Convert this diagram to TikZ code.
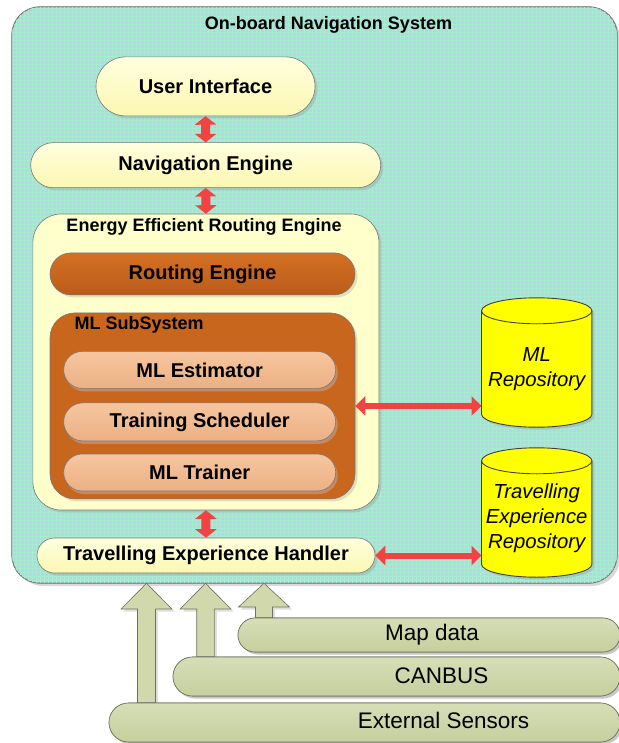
\documentclass[tikz,border=0pt]{standalone}
\usepackage{fontspec}
\setmainfont{Liberation Sans}
\usetikzlibrary{shapes.misc,shadows,arrows.meta,calc}
\definecolor{navbase}{RGB}{186,212,228}
\definecolor{navgrid}{RGB}{166,236,208}
\definecolor{edge}{RGB}{120,120,120}
\definecolor{paleY}{RGB}{255,255,204}
\definecolor{pillTop}{RGB}{255,255,222}
\definecolor{pillBot}{RGB}{252,247,178}
\definecolor{rustTop}{RGB}{212,112,36}
\definecolor{rustBot}{RGB}{186,92,26}
\definecolor{rust}{RGB}{200,102,30}
\definecolor{peachTop}{RGB}{246,198,160}
\definecolor{peachBot}{RGB}{236,176,132}
\definecolor{peachShadow}{RGB}{196,138,100}
\definecolor{arrRed}{RGB}{242,66,66}
\definecolor{greenTop}{RGB}{214,222,182}
\definecolor{greenBot}{RGB}{198,207,158}
\definecolor{greenEdge}{RGB}{112,112,96}
\definecolor{cylY}{RGB}{255,255,0}
\newcommand{\bxfont}{\fontsize{20}{24}\selectfont\bfseries}
\newcommand{\ttlfont}{\fontsize{18}{22}\selectfont\bfseries}
\newcommand{\barfont}{\fontsize{22.5}{27}\selectfont}
\newcommand{\cylfont}{\fontsize{20.3}{25}\selectfont\itshape}
\newcommand{\drawcyl}[1]{%
  \path let \p1=(#1.north west), \p2=(#1.south east) in
    [fill=cylY, draw=black!75, line width=0.9pt,
     drop shadow={shadow xshift=2.5pt,shadow yshift=-2.5pt,opacity=0.25}]
    ({\x1},{\y1-13pt}) -- ({\x1},{\y2+13pt})
    arc[start angle=180,end angle=360,x radius={(\x2-\x1)/2},y radius=13pt]
    -- ({\x2},{\y1-13pt})
    arc[start angle=0,end angle=180,x radius={(\x2-\x1)/2},y radius=13pt]
    -- cycle;
  \path let \p1=(#1.north west), \p2=(#1.south east) in
    [draw=black!75, line width=0.9pt]
    ({\x1},{\y1-13pt})
    arc[start angle=180,end angle=360,x radius={(\x2-\x1)/2},y radius=13pt];
}
\begin{document}
\begin{tikzpicture}[x=1pt,y=-1pt,
  shad/.style={drop shadow={shadow xshift=2.5pt,shadow yshift=-2.5pt,opacity=0.25}},
  pill/.style={rounded rectangle, draw=edge, line width=0.6pt, inner sep=0pt},
  yellowpill/.style={pill, top color=pillTop, bottom color=pillBot, shad, font=\bxfont},
  rustpill/.style={pill, top color=rustTop, bottom color=rustBot, shad, font=\bxfont},
  peachpill/.style={pill, top color=peachTop, bottom color=peachBot,
     drop shadow={shadow xshift=2pt,shadow yshift=-3pt,opacity=1,fill=peachShadow},
     font=\bxfont, minimum width=272pt},
  greenbar/.style={pill, draw=greenEdge, top color=greenTop, bottom color=greenBot, shad},
  container/.style={rectangle, draw=edge, line width=0.6pt, inner sep=0pt},
  ttl/.style={font=\ttlfont, inner sep=0pt},
  redv/.style={draw=arrRed, line width=9pt,
     {Triangle[width=21pt,length=8.5pt]}-{Triangle[width=21pt,length=8.5pt]}},
  redh/.style={draw=arrRed, line width=6pt,
     {Triangle[width=19pt,length=10pt]}-{Triangle[width=19pt,length=10pt]}},
  greenarrow/.style={draw=greenEdge, line width=0.6pt, fill=greenTop!60!greenBot, shad},
  cyltext/.style={font=\cylfont, align=center, inner sep=0pt},
  bartext/.style={font=\barfont, inner sep=0pt}
]
\useasboundingbox (0,0) rectangle (618,743);

% outer system box
\node[container, fill=navbase, rounded corners=28pt, minimum width=605pt, minimum height=576pt,
      drop shadow={shadow xshift=3pt,shadow yshift=-3pt,opacity=0.3}] (nav) at (314.5,295) {};
\begin{scope}
  \clip[rounded corners=28pt] (nav.north west) rectangle (nav.south east);
  \draw[navgrid, line width=0.5pt, step=4pt] (nav.north west) grid (nav.south east);
\end{scope}
\draw[edge, line width=0.6pt, rounded corners=28pt] (nav.north west) rectangle (nav.south east);
\node[ttl] (navtitle) at (328.5,25) {On-board Navigation System};

% main stack
\node[yellowpill, minimum width=219pt, minimum height=59pt] (ui) at (205.5,86.4) {User Interface};
\node[yellowpill, minimum width=350pt, minimum height=45pt] (ne) at (205.7,165.2) {Navigation Engine};

\node[container, fill=paleY, rounded corners=28pt, minimum width=346pt, minimum height=296pt, shad] (eere) at (205.9,362) {};
\node[ttl] (eeretitle) at (204,227) {Energy Efficient Routing Engine};

\node[rustpill, minimum width=305pt, minimum height=42pt] (routing) at (202.5,273.9) {Routing Engine};

\node[container, fill=rust, rounded corners=25pt, minimum width=305pt, minimum height=186pt, shad] (mlsub) at (202.5,405.9) {};
\node[ttl, anchor=west] (mlsubtitle) at (74.5,324.5) {ML SubSystem};

\node[peachpill, minimum height=37pt] (mlest) at (199.7,369.9) {ML Estimator};
\node[peachpill, minimum height=38pt] (trsched) at (199.7,421.9) {Training Scheduler};
\node[peachpill, minimum height=37pt] (mltrain) at (199.7,472.5) {ML Trainer};

\node[yellowpill, minimum width=338pt, minimum height=35pt] (handler) at (206,555.5) {Travelling Experience Handler};

% repositories
\node[inner sep=0pt, minimum width=110pt, minimum height=129pt] (mlrepo) at (536.7,362.5) {};
\drawcyl{mlrepo}
\node[cyltext] (mlrepotxt) at (536.7,368.7) {ML\\Repository};

\node[inner sep=0pt, minimum width=110pt, minimum height=129pt] (terepo) at (536.7,512.5) {};
\drawcyl{terepo}
\node[cyltext] (terepotxt) at (536.7,518) {Travelling\\Experience\\Repository};

% red connectors
\draw[redv] (ui.south) -- (ne.north);
\draw[redv] (ne.south) -- (eere.north);
\draw[redv] (eere.south) -- (handler.north);
\draw[redh] (mlsub.east) -- (mlsub.east -| mlrepo.west);
\draw[redh] (handler.east) -- (handler.east -| terepo.west);

% external sources
\node[greenbar, minimum width=382pt, minimum height=34pt] (mapdata) at (429,635) {};
\node[greenbar, minimum width=447pt, minimum height=39pt] (canbus) at (396.5,676.5) {};
\node[greenbar, minimum width=511pt, minimum height=39pt] (sensors) at (364.5,722.5) {};

% green block arrows (drawn from bars up to the system box)
\path let \p1=(sensors.north), \p2=(nav.south) in
  [greenarrow] (137.5pt,\y1) -- (137.5pt,-609pt) -- (121pt,-609pt) -- (146.5pt,\y2)
  -- (172pt,-609pt) -- (155.5pt,-609pt) -- (155.5pt,\y1) -- cycle;
\path let \p1=(canbus.north), \p2=(nav.south) in
  [greenarrow] (196.7pt,\y1) -- (196.7pt,-609pt) -- (180pt,-609pt) -- (205.5pt,\y2)
  -- (231pt,-609pt) -- (214.3pt,-609pt) -- (214.3pt,\y1) -- cycle;
\path let \p1=(mapdata.north), \p2=(nav.south) in
  [greenarrow] (255.5pt,\y1) -- (255.5pt,-607pt) -- (238.5pt,-607pt) -- (264pt,\y2)
  -- (289.5pt,-607pt) -- (272.5pt,-607pt) -- (272.5pt,\y1) -- cycle;

% redraw bars over arrow ends
\node[greenbar, minimum width=382pt, minimum height=34pt] at (mapdata) {};
\node[greenbar, minimum width=447pt, minimum height=39pt] at (canbus) {};
\node[greenbar, minimum width=511pt, minimum height=39pt] at (sensors) {};
\node[bartext] (maptxt) at (432,635) {Map data};
\node[bartext] (canbustxt) at (441.5,676) {CANBUS};
\node[bartext] (sensorstxt) at (443.5,720.5) {External Sensors};
\end{tikzpicture}
\end{document}
